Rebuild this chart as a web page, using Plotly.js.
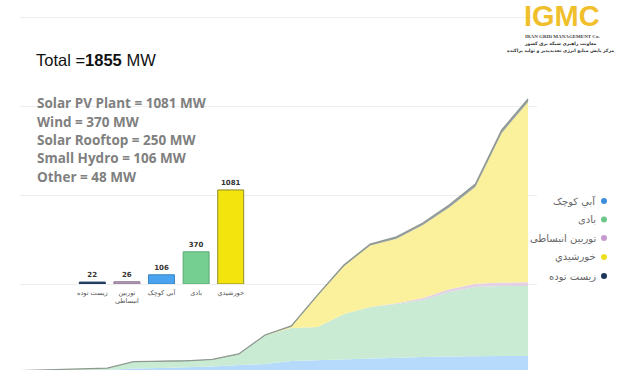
<!DOCTYPE html>
<html>
<head>
<meta charset="utf-8">
<script src="https://cdn.plot.ly/plotly-3.0.1.min.js"></script>
<style>
html,body{margin:0;padding:0;background:#fff;}
#chart{width:620px;height:370px;}
</style>
</head>
<body>
<div id="chart"></div>
<script>
// ---- data ----
const periods = [1,2,3,4,5,6,7,8,9,10,11,12,13,14,15,16,17,18,19,20,21];
const hydro   = [10,12,15,20,27,37,40,44,51,61,67,88,94,101,108,111,115,118,121,121,121];
const wind    = [10,12,12,14,13,47,48,44,45,71,192,222,223,304,344,361,384,435,466,472,472];
const turbine = [0,0,0,0,0,0,0,0,0,0,0,0,0,0,0,5,13,18,22,24,26];
const solar   = [0,0,0,0,0,0,0,0,0,0,0,9,210,322,414,435,492,552,654,1008,1214];
const biomass = [0,0,0,0,0,0,0,0,2,3,4,5,6,8,10,12,14,16,18,20,22];

const barCats   = ['زيست توده','توربين<br>انبساطی','آبي كوچک','بادی','خورشيدي'];
const barValues = [22,26,106,370,1081];

const legendLabels = ['آبي كوچک','بادی','توربين انبساطی','خورشيدي','زيست توده'];
const statLines = ['Solar PV Plant = 1081 MW','Wind = 370 MW','Solar Rooftop = 250 MW','Small Hydro = 106 MW','Other = 48 MW'];
const totalMW = 1855;

// ---- styles ----
const areaFill = ['#b5dafc','#c9ebd4','#e2d2e4','#fbf09c','rgba(70,85,100,0.55)'];
const barColors = ['#1f3a5f','#b39ab8','#4aa3ee','#74cf90','#f2e40c'];
const barLines  = ['#1f3a5f','#8e7a92','#3a85c4','#5aa874','#8f8b30'];
const dotColors = ['#3d8fdc','#6cc68a','#c49ad0','#ece020','#1d3557'];

const W = 620, H = 370;
const px = x => x / W;
const py = y => 1 - y / H;

const series = [hydro, wind, turbine, solar, biomass];
const traces = series.map((s, k) => ({
  type: 'scatter', x: periods, y: s, stackgroup: 'one', mode: 'lines',
  line: {width: k === 4 ? 1.3 : 0, color: k === 4 ? '#8f998f' : areaFill[k]},
  fillcolor: areaFill[k], hoverinfo: 'skip', xaxis: 'x', yaxis: 'y'
}));

traces.push({
  type: 'bar', x: barCats, y: barValues, xaxis: 'x2', yaxis: 'y2',
  marker: {color: barColors, line: {color: barLines, width: 1}},
  texttemplate: '<b>%{y}</b>', textposition: 'outside', cliponaxis: false,
  textfont: {family: 'DejaVu Sans', size: 7, color: '#333'},
  hoverinfo: 'skip'
});

const annotations = [];
annotations.push({
  xref: 'paper', yref: 'paper', x: px(34), y: py(60), xanchor: 'left', yanchor: 'middle',
  text: 'Total =<b>' + totalMW + '</b> MW', showarrow: false,
  font: {family: 'Liberation Sans', size: 16.5, color: '#111'}
});
const statY = [103, 122, 140, 158, 177];
statLines.forEach((t, i) => annotations.push({
  xref: 'paper', yref: 'paper', x: px(35), y: py(statY[i]), xanchor: 'left', yanchor: 'middle',
  text: '<b>' + t + '</b>', showarrow: false,
  font: {family: 'Open Sans', size: 13.5, color: '#808080'}
}));
const legY = [201, 219.5, 238, 257, 276];
const shapes = [];
legendLabels.forEach((t, i) => {
  annotations.push({
    xref: 'paper', yref: 'paper', x: px(598), y: py(legY[i]), xanchor: 'right', yanchor: 'middle',
    text: t, showarrow: false, font: {family: 'DejaVu Sans', size: 10, color: '#666'}
  });
  shapes.push({type: 'circle', xref: 'paper', yref: 'paper',
    x0: px(601), x1: px(607), y0: py(legY[i] + 3), y1: py(legY[i] - 3),
    fillcolor: dotColors[i], line: {width: 0}});
});
// logo
annotations.push({xref:'paper', yref:'paper', x: px(562), y: py(16), xanchor:'center', yanchor:'middle',
  text:'<b>IGMC</b>', showarrow:false, borderpad:0, font:{family:'Liberation Sans', size:29, color:'#f0bf2c'}});
annotations.push({xref:'paper', yref:'paper', x: px(562), y: py(36), xanchor:'center', yanchor:'middle',
  text:'<b>IRAN GRID MANAGEMENT Co.</b>', showarrow:false, borderpad:0, font:{family:'Liberation Serif', size:5, color:'#444'}});
annotations.push({xref:'paper', yref:'paper', x: px(560), y: py(43.5), xanchor:'center', yanchor:'middle',
  text:'<b>معاونت راهبری شبکه برق کشور</b>', showarrow:false, borderpad:0, font:{family:'DejaVu Sans', size:4.5, color:'#333'}});
annotations.push({xref:'paper', yref:'paper', x: px(560), y: py(51), xanchor:'center', yanchor:'middle',
  text:'<b>مرکز پایش منابع انرژی تجدیدپذیر و تولید پراکنده</b>', showarrow:false, borderpad:0, font:{family:'DejaVu Sans', size:4.5, color:'#333'}});

const layout = {
  width: W, height: H, margin: {l:0, r:0, t:0, b:0},
  paper_bgcolor: '#fff', plot_bgcolor: 'rgba(0,0,0,0)', showlegend: false,
  xaxis: {domain: [px(20), px(537)], range: [1.684, 21.34], showgrid: false, zeroline: false,
          showticklabels: false, showline: false, ticks: ''},
  yaxis: {domain: [0, 1], range: [27, 2521], tick0: 0, dtick: 600, gridcolor: '#eeeeee', gridwidth: 1,
          showticklabels: false, zeroline: false, showline: false, ticks: ''},
  xaxis2: {domain: [px(75), px(248)], anchor: 'y2', type: 'category', showgrid: false, zeroline: false,
           showline: false, ticks: '', ticklabelstandoff: 3, tickfont: {family: 'DejaVu Sans', size: 6.5, color: '#555'}},
  yaxis2: {domain: [py(284), py(170)], anchor: 'x2', range: [0, 1310], showgrid: false, zeroline: false,
           showticklabels: false, showline: false, ticks: ''},
  bargap: 0.25,
  annotations: annotations, shapes: shapes
};

Plotly.newPlot('chart', traces, layout, {displayModeBar: false, staticPlot: true});
</script>
</body>
</html>
